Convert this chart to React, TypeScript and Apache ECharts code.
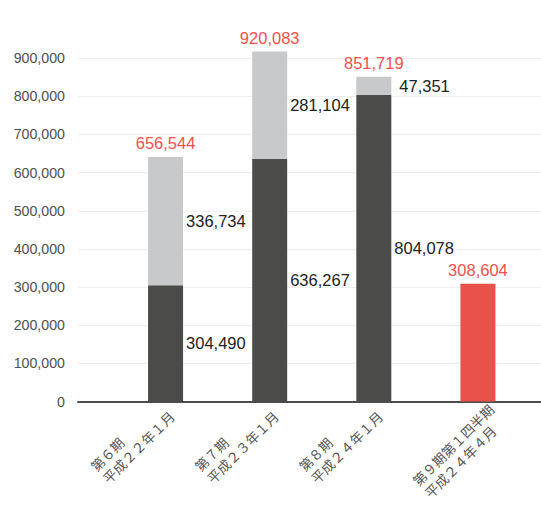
import React, { useEffect, useRef } from 'react';
import * as echarts from 'echarts';

const categories = ['第６期\n平成２２年１月', '第７期\n平成２３年１月', '第８期\n平成２４年１月', '第９期第１四半期\n平成２４年４月'];
const baseValues: (number | null)[] = [304490, 636267, 804078, null];
const addedValues: (number | null)[] = [336734, 281104, 47351, null];
const totalValues: (number | null)[] = [656544, 920083, 851719, null];
const quarterValues: (number | null)[] = [null, null, null, 308604];
const yMin = 0;
const yMax = 900000;
const yInterval = 100000;

const fmt = (v: number) => v.toLocaleString('en-US');
const numFont = '"Liberation Sans", Arial, Helvetica, sans-serif';
const cjkFont = '"Noto Sans CJK JP", "Noto Sans", sans-serif';

export default function App() {
  const ref = useRef<HTMLDivElement>(null);
  useEffect(() => {
    const chart = echarts.init(ref.current!, null, { renderer: 'svg' });
    const segLabel = {
      show: true,
      position: 'right',
      distance: 3,
      color: '#222',
      fontSize: 16.5,
      fontFamily: numFont,
      formatter: (p: any) => fmt(p.value),
    };
    const redLabel = {
      show: true,
      position: 'top',
      distance: 5,
      color: '#f2514c',
      fontSize: 16.5,
      fontFamily: numFont,
    };
    const catStyle = { fontSize: 13.5, lineHeight: 17, color: '#555', fontFamily: cjkFont, align: 'left' };
    chart.setOption({
      animation: false,
      grid: [
        { left: 78, right: 0, top: 58.2, bottom: 106.5 },
        { left: 113.5, right: 11, top: 58.2, bottom: 106.5 },
      ],
      xAxis: [
        {
          gridIndex: 0,
          type: 'value',
          min: 0,
          max: 1,
          axisLine: { show: true, onZero: false, lineStyle: { color: '#4d4d4d', width: 2 } },
          axisTick: { show: false },
          axisLabel: { show: false },
          splitLine: { show: false },
        },
        {
          gridIndex: 1,
          type: 'category',
          data: categories.map((c, i) =>
            i === 3 ? { value: c, textStyle: { verticalAlign: 'top' } } : c
          ),
          axisLine: { show: false },
          axisTick: { show: false },
          axisLabel: {
            interval: 0,
            rotate: 45,
            margin: 6,
            formatter: (v: string, idx: number) => {
              const key = idx === 3 ? 'b' : 'a';
              return v.split('\n').map((l) => `{${key}|${l}}`).join('\n');
            },
            rich: {
              a: catStyle,
              b: { ...catStyle, width: 98 },
            },
          },
        },
      ],
      yAxis: [
        {
          gridIndex: 0,
          type: 'value',
          min: yMin,
          max: yMax,
          interval: yInterval,
          axisLine: { show: false },
          axisTick: { show: false },
          axisLabel: {
            margin: 13,
            color: '#505050',
            fontSize: 14.2,
            fontFamily: numFont,
            formatter: (v: number) => fmt(v),
          },
          splitLine: { lineStyle: { color: '#f0f0f0', width: 1 } },
        },
        {
          gridIndex: 1,
          type: 'value',
          min: yMin,
          max: yMax,
          interval: yInterval,
          show: false,
          splitLine: { show: false },
        },
      ],
      series: [
        {
          name: 'base',
          type: 'bar',
          xAxisIndex: 1,
          yAxisIndex: 1,
          stack: 'a',
          barWidth: 35,
          clip: false,
          itemStyle: { color: '#4b4b49' },
          label: segLabel,
          data: baseValues.map((v) => (v == null ? '-' : v)),
        },
        {
          name: 'added',
          type: 'bar',
          xAxisIndex: 1,
          yAxisIndex: 1,
          stack: 'a',
          barWidth: 35,
          clip: false,
          itemStyle: { color: '#c8c9cb' },
          label: segLabel,
          data: addedValues.map((v, i) =>
            v == null ? '-' : i === 2 ? { value: v, label: { distance: 8 } } : v
          ),
        },
        {
          name: 'total',
          type: 'bar',
          xAxisIndex: 1,
          yAxisIndex: 1,
          stack: 'a',
          barWidth: 35,
          clip: false,
          itemStyle: { color: 'transparent' },
          label: {
            ...redLabel,
            formatter: (p: any) => {
              const t = totalValues[p.dataIndex];
              return t == null ? '' : fmt(t);
            },
          },
          data: totalValues.map((t) => (t == null ? '-' : 0)),
        },
        {
          name: 'quarter',
          type: 'bar',
          xAxisIndex: 1,
          yAxisIndex: 1,
          stack: 'a',
          barWidth: 35,
          clip: false,
          itemStyle: { color: '#e9514b' },
          label: { ...redLabel, formatter: (p: any) => fmt(p.value) },
          data: quarterValues.map((v) => (v == null ? '-' : v)),
        },
      ],
    });
    return () => chart.dispose();
  }, []);
  return (
    <div
      ref={ref}
      style={{ position: 'absolute', left: 0, top: 0, width: 541, height: 508, background: '#fff' }}
    />
  );
}
